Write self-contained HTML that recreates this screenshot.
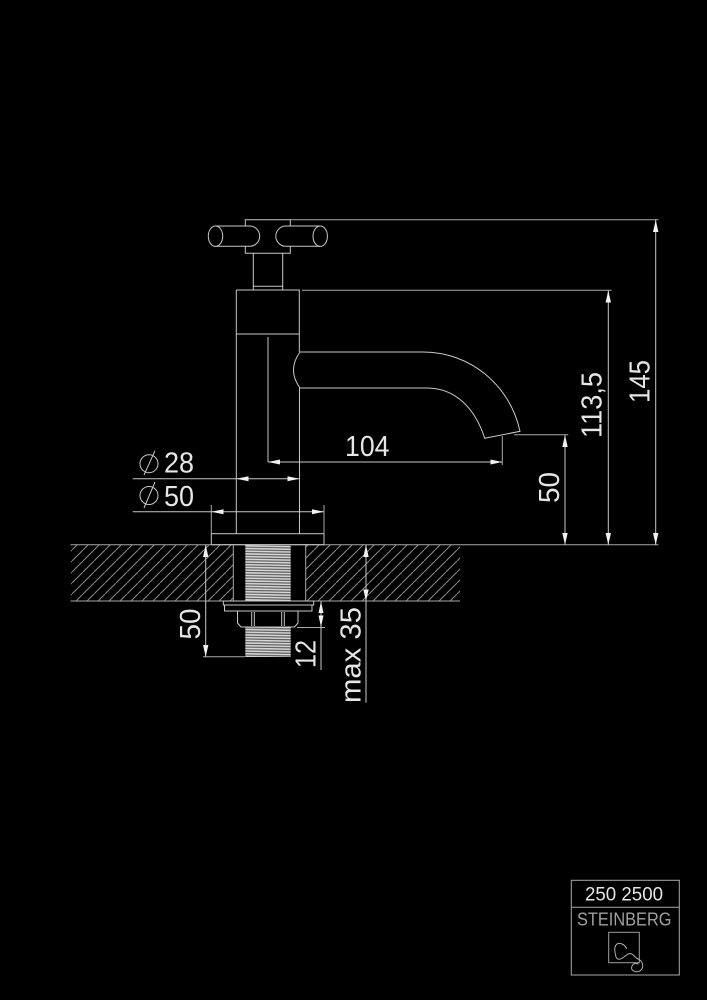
<!DOCTYPE html>
<html><head><meta charset="utf-8"><style>
html,body{margin:0;padding:0;background:#000;width:707px;height:1000px;overflow:hidden}
svg{display:block}
text{font-family:"Liberation Sans",sans-serif;fill:#e6e6e6}
.l{stroke:#c8c8c8;stroke-width:1;fill:none}
.e{stroke:#a8a8a8;stroke-width:1;fill:none}
.a{fill:#f2f2f2;stroke:none}
</style></head><body>
<svg width="707" height="1000" viewBox="0 0 707 1000" xmlns="http://www.w3.org/2000/svg">
<defs>
<pattern id="h" patternUnits="userSpaceOnUse" x="6" y="0" width="11" height="11"><path d="M-1 12L12 -1" stroke="#8c8c8c" stroke-width="1" fill="none"/></pattern>
<pattern id="t" patternUnits="userSpaceOnUse" x="245" y="545" width="46" height="2.7"><rect width="46" height="2.7" fill="#5a5a5a"/><path d="M0 .8L46 1.6" stroke="#d8d8d8" stroke-width="1.5" fill="none"/></pattern>
</defs>
<rect width="707" height="1000" fill="#000"/>

<!-- counter -->
<rect x="71" y="545" width="162" height="56" fill="url(#h)"/>
<rect x="306" y="545" width="154" height="56" fill="url(#h)"/>
<path class="e" d="M70.5 544.7H658.5M70.5 601H460M233.3 545V601M305.7 545V601"/>

<!-- handle -->
<path class="l" d="M245.3 226V219.7H290.3V226M245.3 246.3V253.3H290.3V246.3"/>
<path class="l" d="M215.5 226H250.5A10.2 10.2 0 0 1 250.5 246.3H215.5"/>
<ellipse class="l" cx="215.5" cy="236.2" rx="7.2" ry="10.2"/>
<path class="l" d="M320.2 226H285A10.2 10.2 0 0 0 285 246.3H320.2"/>
<ellipse class="l" cx="320.2" cy="236.2" rx="7.2" ry="10.2"/>
<path class="l" d="M253.3 253.3V290M282.7 253.3V290M253.3 286.3H282.7"/>

<!-- body -->
<path class="l" d="M236.3 290H299.3V352M236.3 334H299.3M236.3 290V533.7M299.5 388V533.7M268 337V462"/>
<!-- spout -->
<path class="l" d="M300 352H423C470 352 510 385 520 431.3L484.7 438.3C475 408 455 388 427 388H300"/>
<path class="l" d="M300 352Q287 370 300 388"/>

<!-- base and thread -->
<rect class="l" x="211.3" y="533.7" width="112.7" height="11"/>
<rect x="245.3" y="545" width="45.4" height="56" fill="url(#t)"/>
<rect x="245.3" y="627" width="45.4" height="30" fill="url(#t)"/>
<path class="l" d="M223.3 601H313.7V605H223.3ZM224.5 605V611H312V605"/>
<path class="l" d="M237.5 611V623L241 627H294.5L298 623V611M251.7 612V626M254.3 612V626M281.7 612V626M284.3 612V626"/>

<!-- extension lines -->
<path class="e" d="M290.3 219.7H658.5M302 290.3H611.7M514 434.7H568.3M502.3 436V465M211.3 505V533.7M324 505V533.7"/>
<path class="e" d="M203 656.7H245M297 627.5H325"/>

<!-- dimension lines -->
<path class="l" d="M655.7 220V544.7M608.3 290.5V544.7M565 435V544.7"/>
<path class="l" d="M268 462H502.3M132.7 478.7H299.3M132.7 511.7H324"/>
<path class="l" d="M205.7 545V656.7M321 601.5V670M366 545V702.7"/>

<!-- arrows -->
<g class="a">
<polygon points="655.7,220 653,232 658.4,232"/><polygon points="655.7,544.7 653,533 658.4,533"/>
<polygon points="608.3,290.5 605.6,302.5 611,302.5"/><polygon points="608.3,544.7 605.6,533 611,533"/>
<polygon points="565,435 562.3,447 567.7,447"/><polygon points="565,544.7 562.3,533 567.7,533"/>
<polygon points="268,462 280,459.5 280,464.5"/><polygon points="502.3,462 490.5,459.5 490.5,464.5"/>
<polygon points="236.3,478.7 248.5,476.2 248.5,481.2"/><polygon points="299.3,478.7 287.5,476.2 287.5,481.2"/>
<polygon points="211.3,511.7 223.5,509.2 223.5,514.2"/><polygon points="324,511.7 312,509.2 312,514.2"/>
<polygon points="205.7,545 203,557 208.4,557"/><polygon points="205.7,656.7 203,645 208.4,645"/>
<polygon points="321,601.5 318.5,613 323.5,613"/><polygon points="321,627 318.5,615.5 323.5,615.5"/>
<polygon points="366,545 363.3,557 368.7,557"/><polygon points="366,601 363.3,589.5 368.7,589.5"/>
</g>

<!-- phi -->
<circle class="l" cx="149" cy="463.7" r="9"/><path class="l" d="M144 475L155 450.7"/>
<circle class="l" cx="149" cy="495.5" r="9"/><path class="l" d="M144 508L155 482"/>

<!-- labels -->
<text x="164" y="472.7" font-size="28.5" textLength="30" lengthAdjust="spacingAndGlyphs">28</text>
<text x="164" y="506" font-size="28.5" textLength="30" lengthAdjust="spacingAndGlyphs">50</text>
<text x="345" y="456" font-size="28.5" textLength="44.5" lengthAdjust="spacingAndGlyphs">104</text>
<text transform="translate(649.3,403) rotate(-90)" font-size="28.5" textLength="43" lengthAdjust="spacingAndGlyphs">145</text>
<text transform="translate(601.7,438) rotate(-90)" font-size="28.5" textLength="66" lengthAdjust="spacingAndGlyphs">113,5</text>
<text transform="translate(559,503) rotate(-90)" font-size="28.5" textLength="31" lengthAdjust="spacingAndGlyphs">50</text>
<text transform="translate(200,639.5) rotate(-90)" font-size="28.5" textLength="31" lengthAdjust="spacingAndGlyphs">50</text>
<text transform="translate(315.7,668) rotate(-90)" font-size="28.5" textLength="28" lengthAdjust="spacingAndGlyphs">12</text>
<text transform="translate(360.7,703) rotate(-90)" font-size="28.5" textLength="96" lengthAdjust="spacingAndGlyphs">max 35</text>

<!-- title block -->
<rect class="e" x="571.3" y="880.3" width="108" height="94.7"/>
<path class="e" d="M571.3 907.3H679.3"/>
<text x="585" y="900.7" font-size="19.5" textLength="78" lengthAdjust="spacingAndGlyphs">250 2500</text>
<text x="577" y="925.7" font-size="18" textLength="94.5" lengthAdjust="spacingAndGlyphs" style="fill:#a0a0a0">STEINBERG</text>
<rect x="608.7" y="932.3" width="30.6" height="30.4" fill="none" stroke="#a0a0a0"/>
<path d="M626.7 949C625 944.5 621 943 618 943.5C614.5 945 614.5 949 615 952C615.5 956 616 959 619 959.3C623 959.5 626 954 630 953.5C633 953.5 634.5 957 637 958.5C640 959.5 642 961 642.7 965C643 969 640 972 636.7 971.7C633 971.5 631 969.5 631.7 967C632.5 963.5 636 962.5 638.5 964.3" fill="none" stroke="#b0b0b0" stroke-width="1"/>
</svg>
</body></html>
